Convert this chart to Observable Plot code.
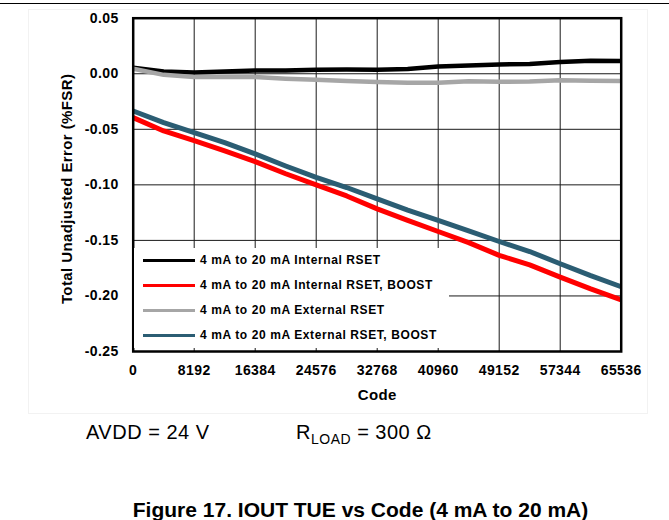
<!DOCTYPE html>
<html>
<head>
<meta charset="utf-8">
<script src="https://cdn.jsdelivr.net/npm/d3@7"></script>
<script src="https://cdn.jsdelivr.net/npm/@observablehq/plot@0.6"></script>
<style>
  html, body { margin: 0; padding: 0; background: #fff; }
  body { width: 669px; height: 520px; position: relative; overflow: hidden;
         font-family: "Liberation Sans", Arial, sans-serif; color: #000; }
  #rule { position: absolute; left: 0; top: 2.5px; width: 669px; height: 1.5px; background: #000; }
  #box { position: absolute; left: 28px; top: 9px; width: 618px; height: 403px; border: 1px solid #f2f2f2; }
  #chart { position: absolute; left: 0; top: 0; }
  #chart svg text { letter-spacing: 0.4px; }
  #legend { position: absolute; left: 134px; top: 248px; width: 315px; height: 100px; background: #fff; }
  .row { height: 25px; display: flex; align-items: center; }
  .row .sw { width: 52px; height: 3px; margin-left: 9px; margin-right: 5px; }
  .row .lb { font-size: 12px; font-weight: bold; letter-spacing: 0.6px; white-space: nowrap; line-height: 25px; }
  #cond { position: absolute; top: 422px; left: 86px; font-size: 20px; line-height: 20px; letter-spacing: 0.5px; white-space: nowrap; }
  #rload { position: absolute; top: 422px; left: 296px; font-size: 20px; line-height: 20px; letter-spacing: 0.5px; white-space: nowrap; }
  #rload sub { font-size: 14px; vertical-align: -5px; line-height: 0; }
  #caption { position: absolute; top: 499px; left: 0; width: 721px; text-align: center; font-size: 21px; line-height: 21px; font-weight: bold; white-space: nowrap; }
</style>
</head>
<body>
<div id="rule"></div>
<div id="box"></div>
<div id="chart"></div>
<div id="legend"></div>
<div id="cond">AVDD = 24 V</div>
<div id="rload">R<sub>LOAD</sub> = 300 Ω</div>
<div id="caption">Figure 17. IOUT TUE vs Code (4 mA to 20 mA)</div>
<script>
// ---- data ----
const codes = [0, 4096, 8192, 12288, 16384, 20480, 24576, 28672, 32768, 36864, 40960, 45056, 49152, 53248, 57344, 61440, 65536];
const internalRset      = [0.0055, 0.0020, 0.0012, 0.0020, 0.0030, 0.0030, 0.0037, 0.0038, 0.0035, 0.0042, 0.0065, 0.0075, 0.0083, 0.0088, 0.0105, 0.0116, 0.0114];
const internalRsetBoost = [-0.0395, -0.0515, -0.0603, -0.0695, -0.0791, -0.0900, -0.1000, -0.1100, -0.1216, -0.1320, -0.1420, -0.1520, -0.1635, -0.1720, -0.1830, -0.1937, -0.2036];
const externalRset      = [0.0045, -0.0010, -0.0030, -0.0030, -0.0030, -0.0045, -0.0055, -0.0065, -0.0075, -0.0080, -0.0080, -0.0068, -0.0072, -0.0070, -0.0058, -0.0062, -0.0066];
const externalRsetBoost = [-0.0335, -0.0440, -0.0530, -0.0620, -0.0722, -0.0830, -0.0932, -0.1024, -0.1126, -0.1227, -0.1320, -0.1415, -0.1510, -0.1600, -0.1710, -0.1817, -0.1917];

const seriesNames = [
  "4 mA to 20 mA Internal RSET",
  "4 mA to 20 mA Internal RSET, BOOST",
  "4 mA to 20 mA External RSET",
  "4 mA to 20 mA External RSET, BOOST"
];
const seriesColors = ["#000000", "#ff0000", "#a6a6a6", "#2b5d73"];
const seriesWidths = [4.5, 5, 4.5, 5];
const seriesValues = [internalRset, internalRsetBoost, externalRset, externalRsetBoost];

const xTicks = [0, 8192, 16384, 24576, 32768, 40960, 49152, 57344, 65536];
const yTicks = [-0.25, -0.20, -0.15, -0.10, -0.05, 0.00, 0.05];
const xTitle = "Code";
const yTitle = "Total Unadjusted Error (%FSR)";

// ---- build table ----
const rows = [];
seriesNames.forEach((name, i) => {
  codes.forEach((c, j) => rows.push({series: name, code: c, value: seriesValues[i][j]}));
});

const lineMarks = seriesNames.map((name, i) =>
  Plot.line(rows.filter(d => d.series === name), {
    x: "code", y: "value", stroke: seriesColors[i], strokeWidth: seriesWidths[i],
    strokeLinejoin: "round", strokeLinecap: "butt"
  })
);

const chart = Plot.plot({
  width: 669,
  height: 413,
  marginLeft: 132.7,
  marginRight: 48.3,
  marginTop: 17.7,
  marginBottom: 62,
  style: {fontFamily: "'Liberation Sans', Arial, sans-serif", fontWeight: "bold", fontSize: "14px", background: "transparent", overflow: "visible"},
  x: {domain: [0, 65536]},
  y: {domain: [-0.25, 0.05]},
  marks: [
    Plot.gridX(xTicks, {stroke: "#1a1a1a", strokeOpacity: 1, strokeWidth: 1}),
    Plot.gridY(yTicks, {stroke: "#1a1a1a", strokeOpacity: 1, strokeWidth: 1}),
    Plot.axisX(xTicks, {tickSize: 0, tickPadding: 14, tickFormat: d => String(d), label: null, fontSize: 14, fontWeight: "bold"}),
    Plot.axisY(yTicks, {tickSize: 0, tickPadding: 14.5, tickFormat: d => d.toFixed(2), label: null, fontSize: 14, fontWeight: "bold"}),
    ...lineMarks,
    Plot.frame({stroke: "#000", strokeWidth: 2.5}),
    Plot.text([xTitle], {frameAnchor: "bottom", dy: 44, lineAnchor: "middle", fontSize: 15, fontWeight: "bold"}),
    Plot.text([yTitle], {frameAnchor: "left", dx: -66, dy: 4, rotate: -90, lineAnchor: "middle", textAnchor: "middle", fontSize: 15, fontWeight: "bold"})
  ]
});
document.getElementById("chart").appendChild(chart);

// ---- legend ----
const legend = document.getElementById("legend");
seriesNames.forEach((name, i) => {
  const row = document.createElement("div");
  row.className = "row";
  const sw = document.createElement("span");
  sw.className = "sw";
  sw.style.background = seriesColors[i];
  const lb = document.createElement("span");
  lb.className = "lb";
  lb.textContent = name;
  row.appendChild(sw);
  row.appendChild(lb);
  legend.appendChild(row);
});
</script>
</body>
</html>
